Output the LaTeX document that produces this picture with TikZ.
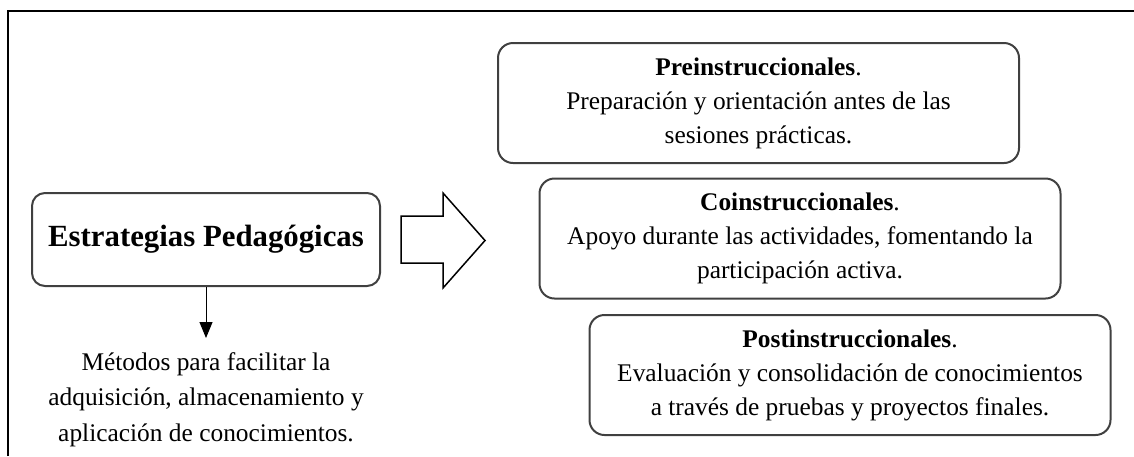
\documentclass[tikz,border=0pt]{standalone}
\usepackage{fontspec}
\setmainfont{Liberation Serif}
\usetikzlibrary{arrows.meta}
\tikzset{
	frame/.style={line width=1pt, color=black},
	mainbox/.style={draw=black!75, line width=1pt, rounded corners=6.5pt, minimum width=174pt, minimum height=46.5pt, font=\fontsize{15.4}{18}\selectfont\bfseries},
	stepbox/.style={draw=black!75, line width=1pt, rounded corners=7.5pt, minimum width=260.5pt, minimum height=60pt, align=center, font=\fontsize{12.7}{17}\selectfont},
	notetext/.style={align=center, inner xsep=0pt, inner ysep=7pt, font=\fontsize{12.7}{17.75}\selectfont},
	downarrow/.style={line width=0.5pt, -{Triangle[width=6.5pt,length=8pt]}},
	bigarrow/.style={line width=0.75pt, color=black}
}

\begin{document}
\begin{tikzpicture}[x=0.5pt, y=-0.5pt]
			%%%%% START %%%%%
			
			\useasboundingbox (0, 0) rectangle (1134, 456);
			\draw[frame] (8, 456) -- (8, 11) -- (1134, 11);
			
			\node[mainbox] (estrategias) at (206, 239.5) {Estrategias Pedagógicas};
			\node[notetext, anchor=north] (metodos) at (206, 338) {Métodos para facilitar la\\adquisición, almacenamiento y\\aplicación de conocimientos.};
			\draw[downarrow] (estrategias) -- (metodos);
			
			\draw[bigarrow] (401, 216) -- (443, 216) -- (443, 193) -- (485, 240.5) -- (443, 288) -- (443, 263) -- (401, 263) -- cycle;
			
			\node[stepbox] (pre) at (758.5, 103) {\textbf{Preinstruccionales}.\\Preparación y orientación antes de las\\sesiones prácticas.};
			\node[stepbox] (co) at (800, 238.5) {\textbf{Coinstruccionales}.\\Apoyo durante las actividades, fomentando la\\participación activa.};
			\node[stepbox] (post) at (850, 375) {\textbf{Postinstruccionales}.\\Evaluación y consolidación de conocimientos\\a través de pruebas y proyectos finales.};
			
			%%%%% END %%%%%
\end{tikzpicture}
\end{document}
